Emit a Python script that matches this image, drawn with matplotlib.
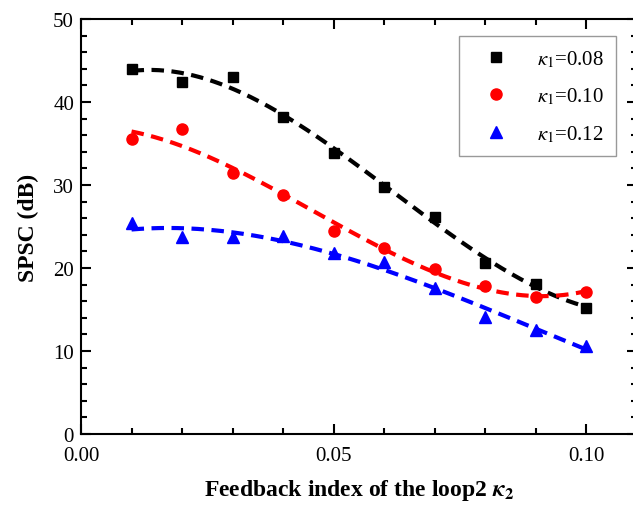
import matplotlib
matplotlib.use("Agg")
import matplotlib.pyplot as plt
import numpy as np
from matplotlib.ticker import MultipleLocator

# feedback index of loop 2
kappa2 = [0.01, 0.02, 0.03, 0.04, 0.05, 0.06, 0.07, 0.08, 0.09, 0.10]

spsc_008 = [44.0, 42.4, 43.0, 38.2, 33.9, 29.8, 26.1, 20.6, 18.1, 15.2]
spsc_010 = [35.5, 36.7, 31.4, 28.8, 24.5, 22.4, 19.9, 17.8, 16.5, 17.1]
spsc_012 = [25.4, 23.7, 23.7, 23.9, 21.8, 20.7, 17.6, 14.1, 12.5, 10.6]

labels = [r"$\kappa_1$=0.08", r"$\kappa_1$=0.10", r"$\kappa_1$=0.12"]

plt.rcParams["font.family"] = "Liberation Serif"
plt.rcParams["mathtext.fontset"] = "stix"

fig = plt.figure(figsize=(6.33, 5.10), dpi=100)
ax = fig.add_axes([81 / 633, 75 / 510, 556 / 633, 415 / 510])

series = [
    (spsc_008, "black", "s", 7),
    (spsc_010, "red", "o", 8),
    (spsc_012, "blue", "^", 8),
]

x = np.array(kappa2)
x_fit = np.linspace(x.min(), x.max(), 200)

for (y, color, marker, size), label in zip(series, labels):
    ax.plot(x, y, linestyle="none", marker=marker, color=color,
            markersize=size, markeredgecolor=color, label=label, zorder=2)
    coef = np.polyfit(x, y, 3)
    ax.plot(x_fit, np.polyval(coef, x_fit), color=color, linewidth=3,
            linestyle=(0, (3, 1.8)), zorder=3)

ax.set_xlim(0, 0.11)
ax.set_ylim(0, 50)
ax.xaxis.set_major_locator(MultipleLocator(0.05))
ax.xaxis.set_minor_locator(MultipleLocator(0.01))
ax.yaxis.set_major_locator(MultipleLocator(10))
ax.yaxis.set_minor_locator(MultipleLocator(2))
ax.xaxis.set_major_formatter(plt.FuncFormatter(lambda v, p: f"{v:.2f}"))

ax.tick_params(which="both", direction="in", top=True, right=True,
               labelsize=15, width=1.5)
ax.tick_params(which="major", length=7)
ax.tick_params(which="minor", length=4)
ax.tick_params(axis="x", which="major", pad=9)
ax.tick_params(axis="y", which="major", pad=5)
for spine in ax.spines.values():
    spine.set_linewidth(1.5)

ax.set_xlabel(r"Feedback index of the loop2 $\boldsymbol{\kappa}_\mathbf{2}$",
              fontsize=17, fontweight="bold", labelpad=8)
ax.set_ylabel("SPSC (dB)", fontsize=17, fontweight="bold", labelpad=10)

leg = ax.legend(loc="upper right", bbox_to_anchor=(616 / 633, 473 / 510),
                bbox_transform=fig.transFigure, borderaxespad=0,
                fontsize=15, frameon=True, fancybox=False, edgecolor="gray",
                handletextpad=0.8, borderpad=0.6, labelspacing=0.8,
                handlelength=2.3)
leg.get_frame().set_linewidth(1.0)

fig.savefig("out.png", dpi=100)
